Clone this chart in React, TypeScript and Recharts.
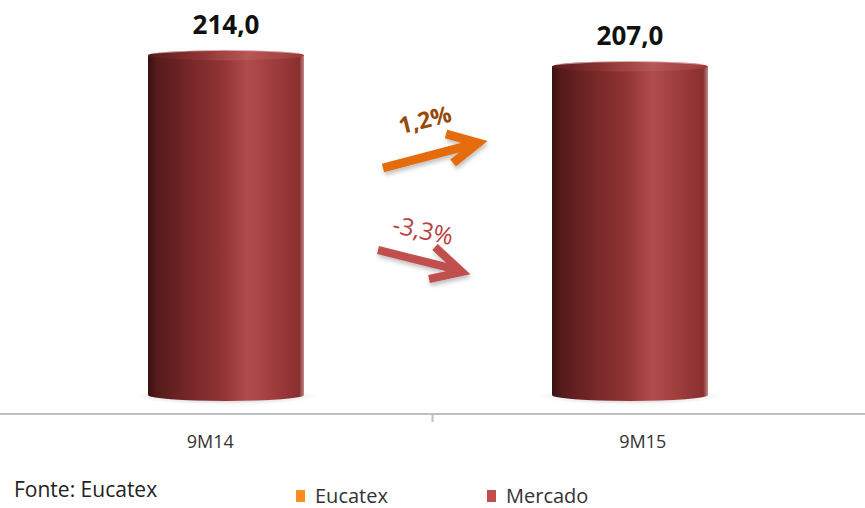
import { BarChart, Bar, XAxis, YAxis, LabelList, Legend } from "recharts";

const W = 865;
const H = 508;

const categories = ["9M14", "9M15"];
const mercado = [214.0, 207.0];
const valueLabels = ["214,0", "207,0"];
const legendItems = [
  { name: "Eucatex", color: "#f7901e", left: 296 },
  { name: "Mercado", color: "#c0504d", left: 487 },
];
const source = "Fonte: Eucatex";

const data = categories.map((c, i) => ({ name: c, mercado: mercado[i], label: valueLabels[i] }));

const FONT = "'Open Sans', 'Noto Sans', sans-serif";

function Cylinder(props: any) {
  const { x, y, width, height } = props;
  const cx = x + width / 2;
  const rx = width / 2;
  const bottom = y + height;
  return (
    <g>
      <ellipse cx={cx} cy={bottom + 1} rx={rx + 14} ry={9} fill="url(#cylShadow)" />
      <rect x={x} y={y} width={width} height={height} fill="url(#cylBody)" />
      <ellipse cx={cx} cy={bottom} rx={rx} ry={6} fill="url(#cylBody)" />
      <ellipse cx={cx} cy={y} rx={rx} ry={5} fill="url(#cylTop)" />
      <path d={`M${x + 4},${y - 2} Q${cx},${y - 8} ${x + width - 4},${y - 2}`} stroke="#e8b8b8" strokeWidth={1} fill="none" opacity={0.7} />
    </g>
  );
}

function ValueLabel(props: any) {
  const { x, y, width, value } = props;
  return (
    <text x={x + width / 2} y={y - 21} textAnchor="middle" fontFamily={FONT} fontWeight={700} fontSize={26} fill="#111">
      {value}
    </text>
  );
}

function CategoryTick(props: any) {
  const { x, y, payload, index } = props;
  const step = W / categories.length;
  return (
    <g>
      {index > 0 && <line x1={x - step / 2} x2={x - step / 2} y1={y - 8} y2={y} stroke="#bfbfbf" strokeWidth={2} />}
      <text x={x - 6} y={y + 26} textAnchor="middle" fontFamily={FONT} fontSize={18} fill="#333">
        {payload.value}
      </text>
    </g>
  );
}

function LegendBox() {
  return (
    <div style={{ position: "relative", width: W, height: 40, fontFamily: FONT }}>
      <div style={{ position: "absolute", left: 14, top: 7, fontSize: 21, color: "#222" }}>{source}</div>
      {legendItems.map((it) => (
        <div
          key={it.name}
          style={{ position: "absolute", left: it.left, top: 14, display: "flex", alignItems: "center", fontSize: 20, color: "#333" }}
        >
          <span style={{ display: "inline-block", width: 9, height: 12, background: it.color, marginRight: 10 }} />
          {it.name}
        </div>
      ))}
    </div>
  );
}

function Arrows() {
  return (
    <svg width={W} height={H} style={{ position: "absolute", left: 0, top: 0, pointerEvents: "none" }}>
      <defs>
        <filter id="arrShadow" x="-20%" y="-20%" width="140%" height="160%">
          <feDropShadow dx="1" dy="3" stdDeviation="2" floodColor="#000" floodOpacity="0.25" />
        </filter>
      </defs>
      <g filter="url(#arrShadow)" fill="none" strokeLinejoin="miter">
        <line x1={383} y1={168} x2={474} y2={144} stroke="#e46c0a" strokeWidth={9} />
        <polyline points="446,134 478,143 453,163" stroke="#e46c0a" strokeWidth={9} />
        <line x1={378} y1={250} x2={458} y2={270} stroke="#c0504d" strokeWidth={8} />
        <polyline points="435,247 462,272 429,279" stroke="#c0504d" strokeWidth={8} />
      </g>
      <text x={425} y={128} textAnchor="middle" fontFamily={FONT} fontWeight={700} fontSize={23} fill="#984807" transform="rotate(-14 425 120)">
        1,2%
      </text>
      <text x={423} y={239} textAnchor="middle" fontFamily={FONT} fontSize={24} fill="#b5423f" transform="rotate(12 423 230)">
        -3,3%
      </text>
    </svg>
  );
}

export default function App() {
  return (
    <div style={{ position: "absolute", left: 0, top: 0, width: W, height: H, background: "#fff" }}>
      <BarChart width={W} height={H} data={data} margin={{ top: 14, right: 0, bottom: 54, left: 0 }}>
        <defs>
          <linearGradient id="cylBody" x1="0" y1="0" x2="1" y2="0">
            <stop offset="0%" stopColor="#3a1111" />
            <stop offset="6%" stopColor="#561b1b" />
            <stop offset="25%" stopColor="#742626" />
            <stop offset="48%" stopColor="#913434" />
            <stop offset="64%" stopColor="#b04c4c" />
            <stop offset="82%" stopColor="#9e3c3c" />
            <stop offset="97%" stopColor="#8a2f2f" />
            <stop offset="100%" stopColor="#c08a8a" />
          </linearGradient>
          <linearGradient id="cylTop" x1="0" y1="0" x2="1" y2="0">
            <stop offset="0%" stopColor="#5a1c1c" />
            <stop offset="30%" stopColor="#8a3030" />
            <stop offset="64%" stopColor="#b65656" />
            <stop offset="100%" stopColor="#9a3a3a" />
          </linearGradient>
          <radialGradient id="cylShadow" cx="0.5" cy="0.5" r="0.5">
            <stop offset="0%" stopColor="#555" stopOpacity={0.6} />
            <stop offset="100%" stopColor="#999" stopOpacity={0} />
          </radialGradient>
        </defs>
        <XAxis
          xAxisId="labels"
          dataKey="name"
          axisLine={{ stroke: "#bfbfbf", strokeWidth: 2 }}
          tickLine={false}
          height={40}
          tick={<CategoryTick />}
          interval={0}
        />
        <XAxis xAxisId="bars" dataKey="name" hide height={0} padding={{ left: 24, right: 33 }} />
        <YAxis hide domain={[-12, 240]} />
        <Legend verticalAlign="middle" align="center" layout="horizontal" wrapperStyle={{ top: 468, left: 0, width: W }} content={() => <LegendBox />} />
        <Bar xAxisId="bars" dataKey="mercado" barSize={156} shape={<Cylinder />} isAnimationActive={false}>
          <LabelList dataKey="label" content={<ValueLabel />} />
        </Bar>
      </BarChart>
      <Arrows />
    </div>
  );
}
